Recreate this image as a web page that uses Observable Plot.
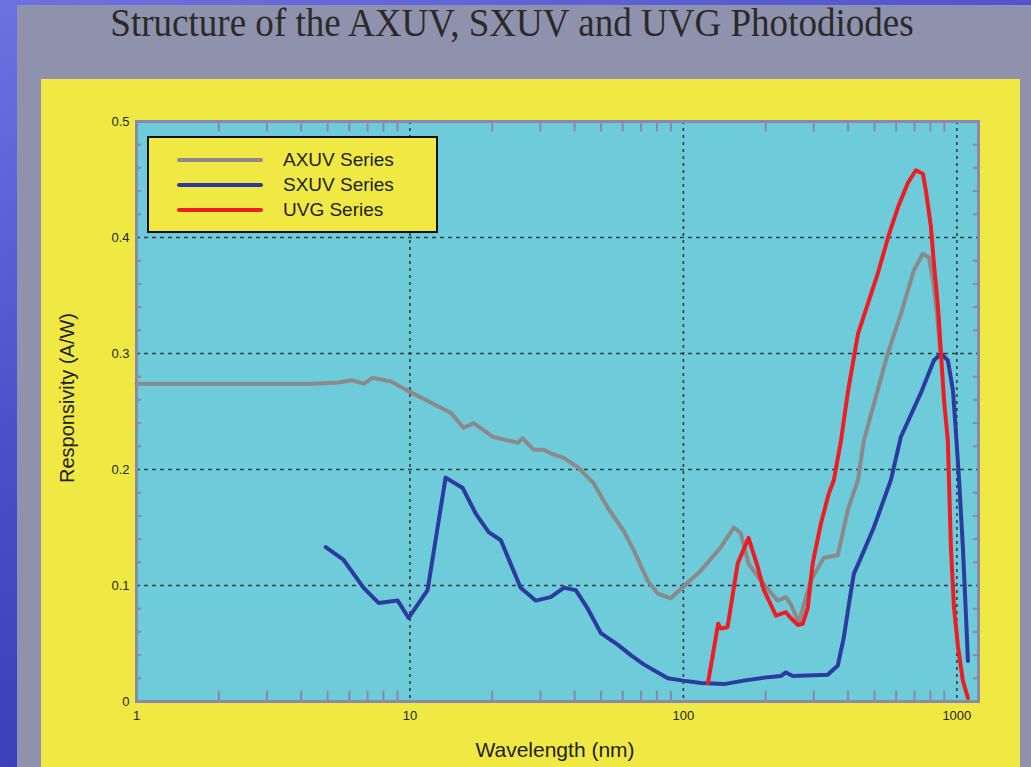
<!DOCTYPE html>
<html>
<head>
<meta charset="utf-8">
<script src="https://cdn.jsdelivr.net/npm/d3@7"></script>
<script src="https://cdn.jsdelivr.net/npm/@observablehq/plot@0.6"></script>
<style>
  html, body { margin: 0; padding: 0; }
  body { width: 1031px; height: 767px; overflow: hidden; position: relative;
         background: linear-gradient(160deg, #6d72e2 0%, #4a4fc8 40%, #2a2ea6 100%); }
  #panel { position: absolute; left: 17px; top: 5px; right: 0; bottom: 0; background: #8e92ac; }
  #title { position: absolute; left: 0; width: 1024px; top: 3px; text-align: center; line-height: 1;
           font-family: "Liberation Serif", "Times New Roman", serif; font-size: 39px; color: #2a2a2a;
           transform: scaleX(0.95); transform-origin: 512px 0; white-space: nowrap; }
  #yellow { position: absolute; left: 41px; top: 79px; width: 979px; height: 688px; background: #f0e843; }
  #chart { position: absolute; left: 41px; top: 79px; }
  #ylabel { position: absolute; left: 67px; top: 398px; transform: translate(-50%, -50%) rotate(-90deg);
            font-family: Arial, "Liberation Sans", sans-serif; font-size: 20px; color: #1e1e1e; white-space: nowrap; }
  #xlabel { position: absolute; left: 555px; top: 750px; transform: translate(-50%, -50%);
            font-family: Arial, "Liberation Sans", sans-serif; font-size: 21px; color: #1e1e1e; white-space: nowrap; }
  #legend { position: absolute; left: 147px; top: 136px; width: 287px; height: 93px; border: 2.5px solid #111;
            background: #f0e843; font-family: Arial, "Liberation Sans", sans-serif; font-size: 19px; color: #1e1e1e; }
  .item { position: absolute; left: 0; height: 24px; }
  .sw { position: absolute; left: 28px; width: 86px; height: 4px; border-radius: 2px; }
  .lt { position: absolute; left: 134px; white-space: nowrap; line-height: 24px; }
</style>
</head>
<body>
<div id="panel"></div>
<div id="title">Structure of the AXUV, SXUV and UVG Photodiodes</div>
<div id="yellow"></div>
<div id="chart"></div>
<div id="ylabel">Responsivity (A/W)</div>
<div id="xlabel">Wavelength (nm)</div>
<div id="legend"></div>
<script>
// ---- data (wavelength nm, responsivity A/W) ----
const seriesNames = ["AXUV Series", "SXUV Series", "UVG Series"];
const seriesColors = ["#8a8a8a", "#2b3c9e", "#ee1d24"];

const axuv = [[1,0.274],[2,0.274],[4.4,0.274],[5.5,0.275],[6.1,0.277],[6.8,0.274],[7.3,0.279],[8.5,0.276],
  [9.8,0.268],[11.2,0.261],[14.1,0.249],[15.7,0.236],[17.1,0.240],[20.2,0.228],[24.8,0.223],[25.8,0.227],
  [28.4,0.217],[30.8,0.217],[32.7,0.214],[36.5,0.210],[41.1,0.202],[47,0.188],[52.9,0.167],[60.5,0.147],
  [65.9,0.130],[74.1,0.104],[80.6,0.093],[89.9,0.089],[97.8,0.097],[116,0.113],[137,0.133],[153,0.150],
  [162,0.145],[173,0.119],[192,0.104],[221,0.087],[237,0.090],[247,0.084],[264,0.068],[292,0.104],
  [326,0.124],[367,0.126],[399,0.165],[435,0.191],[457,0.225],[559,0.300],[624,0.334],[697,0.372],
  [751,0.386],[790,0.383],[818,0.363],[846,0.335],[870,0.300]];

const sxuv = [[4.92,0.133],[5.72,0.122],[6.77,0.098],[7.68,0.085],[9.02,0.087],[9.89,0.072],[11.6,0.096],
  [13.5,0.193],[15.6,0.184],[17.4,0.162],[19.4,0.146],[21.5,0.139],[25.4,0.098],[28.8,0.087],[32.7,0.090],
  [36.5,0.098],[40.4,0.096],[44.7,0.080],[49.9,0.059],[57.5,0.049],[64.2,0.040],[71.6,0.032],[87.7,0.020],
  [99.5,0.018],[116,0.016],[141,0.015],[166,0.018],[204,0.021],[227,0.022],[237,0.025],[251,0.022],
  [337,0.023],[367,0.031],[386,0.055],[403,0.084],[420,0.110],[446,0.124],[497,0.150],[574,0.191],
  [624,0.228],[739,0.266],[824,0.294],[875,0.300],[927,0.294],[968,0.268],[993,0.231],[1019,0.191],
  [1052,0.133],[1079,0.076],[1098,0.035]];

const uvg = [[123,0.016],[134,0.067],[137,0.063],[145,0.064],[158,0.119],[173,0.141],[187,0.116],
  [197,0.096],[218,0.074],[237,0.077],[247,0.072],[262,0.066],[273,0.067],[285,0.081],[297,0.119],
  [318,0.153],[340,0.179],[355,0.191],[377,0.225],[399,0.266],[435,0.317],[514,0.369],[565,0.403],
  [609,0.426],[662,0.447],[708,0.458],[751,0.455],[771,0.440],[804,0.409],[824,0.378],[853,0.340],
  [875,0.300],[898,0.259],[927,0.225],[936,0.191],[951,0.133],[976,0.081],[1010,0.047],[1052,0.018],[1098,0.003]];

const xDomain = [1, 1200];
const yDomain = [0, 0.5];
const xTicks = [1, 10, 100, 1000];
const xTickLabels = ["1", "10", "100", "1000"];
const yTicks = [0, 0.1, 0.2, 0.3, 0.4, 0.5];
const yTickLabels = ["0", "0.1", "0.2", "0.3", "0.4", "0.5"];
const xGrid = [10, 100, 1000];
const yGrid = [0.1, 0.2, 0.3, 0.4];
const xMinor = [2,3,4,5,6,7,8,9,20,30,40,50,60,70,80,90,200,300,400,500,600,700,800,900];
const yMinor = [0.02,0.04,0.06,0.08,0.12,0.14,0.16,0.18,0.22,0.24,0.26,0.28,0.32,0.34,0.36,0.38,0.42,0.44,0.46,0.48];

// ---- build table ----
const rows = [];
[axuv, sxuv, uvg].forEach((s, i) => s.forEach(([x, y]) => rows.push({series: seriesNames[i], x, y})));

const frameColor = "#8b89a9";
const chart = Plot.plot({
  width: 979, height: 688,
  marginLeft: 95, marginRight: 42, marginTop: 42, marginBottom: 66,
  style: {background: "transparent", fontFamily: "Arial, 'Liberation Sans', sans-serif", fontSize: "13px", color: "#262626"},
  x: {type: "log", domain: xDomain},
  y: {domain: yDomain},
  color: {domain: seriesNames, range: seriesColors},
  marks: [
    Plot.frame({fill: "#6ecbd9", stroke: null}),
    Plot.ruleX(xGrid, {stroke: "#3a3a3a", strokeWidth: 1.6, strokeDasharray: "3,4"}),
    Plot.ruleY(yGrid, {stroke: "#3a3a3a", strokeWidth: 1.6, strokeDasharray: "4,4"}),
    // minor ticks inside the frame
    Plot.ruleX(xMinor, {y1: 0, y2: 0.009, stroke: frameColor, strokeWidth: 2}),
    Plot.ruleX(xMinor, {y1: 0.491, y2: 0.5, stroke: frameColor, strokeWidth: 2}),
    Plot.ruleY(yMinor, {x1: 1, x2: 1.045, stroke: frameColor, strokeWidth: 2}),
    Plot.ruleY(yMinor, {x1: 1200 / 1.045, x2: 1200, stroke: frameColor, strokeWidth: 2}),
    Plot.line(rows, {x: "x", y: "y", z: "series", stroke: "series", strokeWidth: 4, curve: "linear",
      strokeLinejoin: "round", strokeLinecap: "round"}),
    Plot.frame({stroke: frameColor, strokeWidth: 3}),
    Plot.axisX(xTicks, {tickSize: 0, tickPadding: 9, tickFormat: d => xTickLabels[xTicks.indexOf(d)], label: null, fontSize: 13}),
    Plot.axisY(yTicks, {tickSize: 0, tickPadding: 7, tickFormat: d => yTickLabels[yTicks.indexOf(d)], label: null, fontSize: 13})
  ]
});
document.getElementById("chart").appendChild(chart);

// ---- legend ----
const leg = document.getElementById("legend");
seriesNames.forEach((n, i) => {
  const it = document.createElement("div");
  it.className = "item";
  it.style.top = (10 + i * 25) + "px";
  it.innerHTML = `<div class="sw" style="top:10px;background:${seriesColors[i]}"></div><div class="lt">${n}</div>`;
  leg.appendChild(it);
});
</script>
</body>
</html>
